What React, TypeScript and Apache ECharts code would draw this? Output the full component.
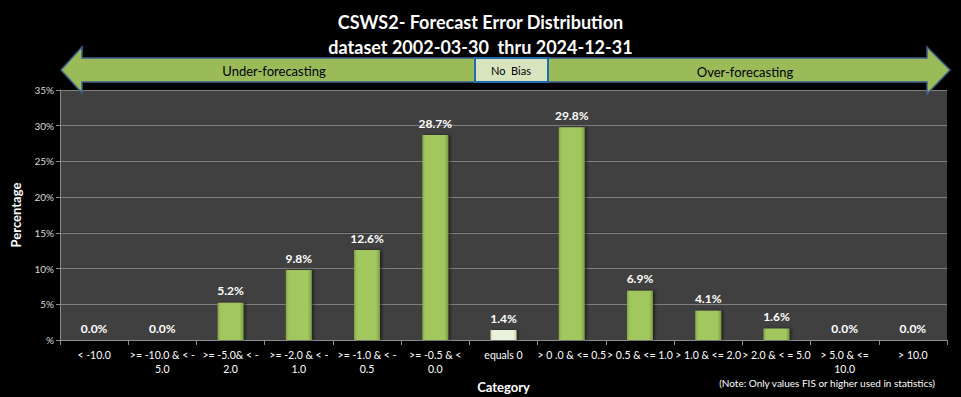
import React, { useEffect, useRef } from "react";
import * as echarts from "echarts";

const categories = [
  "< -10.0",
  ">= -10.0 & < -\n5.0",
  ">= -5.0& < -\n2.0",
  ">= -2.0 & < -\n1.0",
  ">= -1.0 & < -\n0.5",
  ">= -0.5 & <\n0.0",
  "equals 0",
  "> 0 .0 & <= 0.5",
  "> 0.5 & <= 1.0",
  "> 1.0 & <= 2.0",
  "> 2.0 & < = 5.0",
  "> 5.0 & <=\n10.0",
  "> 10.0",
];
const values = [0.0, 0.0, 5.2, 9.8, 12.6, 28.7, 1.4, 29.8, 6.9, 4.1, 1.6, 0.0, 0.0];
const yTicks = { min: 0, max: 35, interval: 5 };
const titleLines = ["CSWS2- Forecast Error Distribution", "dataset 2002-03-30  thru 2024-12-31"];

const FONT = "Lato, 'Open Sans', sans-serif";

const greenBar = new echarts.graphic.LinearGradient(0, 0, 1, 0, [
  { offset: 0, color: "#86a84a" },
  { offset: 0.12, color: "#a2c75e" },
  { offset: 0.85, color: "#a2c75e" },
  { offset: 1, color: "#7c9c42" },
]);
const paleBar = new echarts.graphic.LinearGradient(0, 0, 1, 0, [
  { offset: 0, color: "#d3dfbb" },
  { offset: 0.12, color: "#eaf1dc" },
  { offset: 0.85, color: "#eaf1dc" },
  { offset: 1, color: "#cbd8b0" },
]);

export default function App() {
  const ref = useRef<HTMLDivElement>(null);
  useEffect(() => {
    if (!ref.current) return;
    const chart = echarts.init(ref.current, null, { renderer: "svg" });
    const arrowFill = "#9bbb59";
    const arrowStroke = "#3d5e8a";
    chart.setOption({
      animation: false,
      backgroundColor: "#000000",
      textStyle: { fontFamily: FONT },
      title: {
        text: titleLines.join("\n"),
        left: "center",
        top: 4,
        textStyle: { color: "#ffffff", fontSize: 18, fontWeight: "bold", lineHeight: 25, fontFamily: FONT },
      },
      grid: { left: 60, right: 14, top: 90, bottom: 57, containLabel: false, outerBoundsMode: "none" },
      xAxis: {
        type: "category",
        data: categories,
        name: "Category",
        nameLocation: "middle",
        nameGap: 38,
        nameTextStyle: { color: "#ffffff", fontSize: 13, fontWeight: "bold" },
        axisLine: { lineStyle: { color: "#8c8c8c" } },
        axisTick: { show: true, length: 5, lineStyle: { color: "#8c8c8c" } },
        axisLabel: { color: "#ffffff", fontSize: 10.5, interval: 0, lineHeight: 14, margin: 8 },
      },
      yAxis: {
        type: "value",
        min: yTicks.min,
        max: yTicks.max,
        interval: yTicks.interval,
        name: "Percentage",
        nameLocation: "middle",
        nameGap: 38,
        nameTextStyle: { color: "#ffffff", fontSize: 13, fontWeight: "bold" },
        axisLine: { show: true, lineStyle: { color: "#8c8c8c" } },
        axisTick: { show: true, length: 4, lineStyle: { color: "#8c8c8c" } },
        axisLabel: {
          color: "#d9d9d9",
          fontSize: 10,
          margin: 6,
          formatter: (v: number) => (v === 0 ? "%" : v + "%"),
        },
        splitLine: { show: true, lineStyle: { color: "#7f7f7f", width: 1 } },
        splitArea: { show: true, areaStyle: { color: ["#404040", "#404040"] } },
      },
      series: [
        {
          type: "bar",
          data: values.map((v, i) => ({
            value: v,
            itemStyle: { color: i === 6 ? paleBar : greenBar },
          })),
          barWidth: "38%",
          itemStyle: {
            shadowColor: "rgba(0,0,0,0.5)",
            shadowBlur: 3,
            shadowOffsetX: 2,
            shadowOffsetY: 0,
          },
          label: {
            show: true,
            position: "top",
            distance: 6,
            color: "#ffffff",
            fontSize: 12,
            fontWeight: "bold",
            formatter: (p: any) => p.value.toFixed(1) + "%",
          },
        },
      ],
      graphic: [
        {
          type: "polygon",
          shape: {
            points: [
              [61, 70],
              [82, 47],
              [82, 58],
              [475, 58],
              [475, 82],
              [82, 82],
              [82, 93],
            ],
          },
          style: { fill: arrowFill, stroke: arrowStroke, lineWidth: 1.5 },
          z: 10,
        },
        {
          type: "polygon",
          shape: {
            points: [
              [548, 58],
              [927, 58],
              [927, 47],
              [950, 70],
              [927, 94],
              [927, 82],
              [548, 82],
            ],
          },
          style: { fill: arrowFill, stroke: arrowStroke, lineWidth: 1.5 },
          z: 10,
        },
        {
          type: "rect",
          shape: { x: 475, y: 58, width: 73, height: 24 },
          style: { fill: "#d7e4bd", stroke: "#1f6cb0", lineWidth: 2 },
          z: 11,
        },
        {
          type: "text",
          x: 511,
          y: 70,
          style: { text: "No  Bias", fill: "#000000", fontSize: 11, fontFamily: FONT, align: "center", verticalAlign: "middle" },
          z: 12,
        },
        {
          type: "text",
          x: 274,
          y: 71,
          style: { text: "Under-forecasting", fill: "#000000", fontSize: 13, fontFamily: FONT, align: "center", verticalAlign: "middle" },
          z: 12,
        },
        {
          type: "text",
          x: 745,
          y: 72,
          style: { text: "Over-forecasting", fill: "#000000", fontSize: 13, fontFamily: FONT, align: "center", verticalAlign: "middle" },
          z: 12,
        },
        {
          type: "text",
          x: 935,
          y: 383,
          style: {
            text: "(Note: Only values FIS or higher used in statistics)",
            fill: "#ffffff",
            fontSize: 10,
            fontFamily: FONT,
            align: "right",
            verticalAlign: "middle",
          },
          z: 12,
        },
      ],
    });
    return () => chart.dispose();
  }, []);
  return <div ref={ref} style={{ width: 961, height: 397, position: "absolute", left: 0, top: 0 }} />;
}
